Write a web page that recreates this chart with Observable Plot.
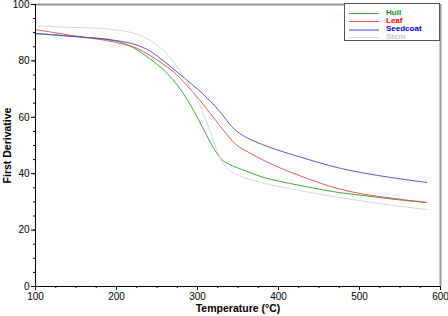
<!DOCTYPE html>
<html><head><meta charset="utf-8">
<script src="https://cdn.jsdelivr.net/npm/d3@7"></script>
<script src="https://cdn.jsdelivr.net/npm/@observablehq/plot@0.6"></script>
<style>
body{margin:0;background:#fff;font-family:"Liberation Sans",Arial,sans-serif}
#wrap{position:relative;width:448px;height:316px}
#legend{position:absolute;left:344px;top:3px;width:96px;height:38px;border:1px solid #555;background:#fff;box-sizing:border-box;font-weight:bold;font-size:8px}
.row{position:absolute;left:0;height:8px;width:94px}
.sw{position:absolute;left:4px;top:4px;width:30px;height:1px}
.lb{position:absolute;left:41px;top:0;line-height:8px;white-space:nowrap}
</style></head>
<body><div id="wrap"></div>
<script>
const seriesNames = ["Hull", "Leaf", "Seedcoat", "Stem"];
const lineColors = ["#2e9a2e", "#e54545", "#4545cc", "#d2d2d2"];
const swatchColors = ["#44b044", "#f06060", "#a0a0ee", "#d8d8d8"];
const textColors = ["#1a8a1a", "#ff0000", "#0000cc", "#c8c8c8"];

const hullTemp  = [100, 150, 200, 220, 241, 260, 280, 295, 307, 319, 330, 340, 355, 380, 400, 427, 475, 504, 540, 583];
const hullValue = [89.7, 88.6, 87, 84.8, 80.8, 76.3, 69.5, 62.5, 56, 49.5, 45, 43.2, 41.5, 38.8, 37.4, 35.8, 33.3, 32.3, 31, 29.8];

const leafTemp  = [100, 150, 200, 225, 241, 255, 270, 287, 303, 319, 336, 345, 365, 400, 427, 475, 504, 540, 583];
const leafValue = [91.1, 88.8, 86.5, 84.5, 82, 79.4, 76.2, 71.3, 66, 60.2, 54, 51, 47.3, 42.3, 39.2, 34.6, 32.8, 31.3, 29.8];

const seedTemp  = [100, 150, 200, 225, 241, 255, 270, 285, 300, 315, 330, 342, 352, 365, 385, 427, 475, 504, 540, 583];
const seedValue = [89.7, 88.6, 87.2, 85.6, 83.6, 80.7, 77.2, 73.6, 70, 66, 61.2, 56.8, 54.3, 52.2, 49.8, 45.9, 42, 40.3, 38.6, 36.9];

const stemTemp  = [100, 150, 182, 204, 225, 241, 255, 268, 282, 295, 305, 315, 323, 330, 338, 350, 377, 427, 475, 504, 540, 583];
const stemValue = [92.5, 91.8, 91.5, 90.8, 89.5, 87.3, 84.5, 80.5, 74.8, 68.6, 62.8, 55.5, 49, 44.3, 41.6, 39.5, 37, 34, 31.6, 30.3, 28.8, 27.3];

const xTicks = [100, 200, 300, 400, 500, 600];
const yTicks = [0, 20, 40, 60, 80, 100];
const xMinor = d3.range(100, 601, 25);
const yMinor = d3.range(0, 101, 5);

const temps = [hullTemp, leafTemp, seedTemp, stemTemp];
const vals = [hullValue, leafValue, seedValue, stemValue];
const data = [];
seriesNames.forEach((s, i) => temps[i].forEach((t, j) => data.push({series: s, t, v: vals[i][j]})));

const chart = Plot.plot({
  width: 448, height: 316,
  marginLeft: 35, marginRight: 8, marginTop: 4, marginBottom: 30,
  style: {fontFamily: "Liberation Sans, Arial, sans-serif", fontSize: "10px", color: "#000", background: "#fff", overflow: "visible"},
  x: {domain: [100, 600]},
  y: {domain: [0, 100]},
  color: {domain: seriesNames, range: lineColors},
  marks: [
    Plot.ruleY([100], {stroke: "#999", strokeWidth: 2}),
    Plot.ruleX([600], {stroke: "#999", strokeWidth: 2}),
    Plot.line(data, {x: "t", y: "v", z: "series", stroke: "series", strokeWidth: 0.9, curve: "monotone-x"}),
    Plot.axisX(xMinor, {tickSize: 2, text: null, label: null, stroke: "#000"}),
    Plot.axisY(yMinor, {tickSize: 2, text: null, label: null, stroke: "#000"}),
    Plot.axisX(xTicks, {tickSize: 4, tickPadding: 2, label: "Temperature (°C)", labelAnchor: "center", labelArrow: "none", labelOffset: 25, fontSize: 10}),
    Plot.axisY(yTicks, {tickSize: 4, tickPadding: 2, label: "First Derivative", labelAnchor: "center", labelArrow: "none", labelOffset: 32, fontSize: 10}),
    Plot.ruleY([0], {stroke: "#000"}),
    Plot.ruleX([100], {stroke: "#000"})
  ]
});
d3.select(chart).selectAll("g[aria-label='x-axis label'] text, g[aria-label='y-axis label'] text")
  .style("font-weight", "bold").style("font-size", "10.5px");
document.getElementById("wrap").appendChild(chart);

const lg = document.createElement("div");
lg.id = "legend";
seriesNames.forEach((s, i) => {
  const r = document.createElement("div");
  r.className = "row";
  r.style.top = (5 + i * 8) + "px";
  const sw = document.createElement("div");
  sw.className = "sw";
  sw.style.background = swatchColors[i];
  if (s === "Seedcoat") { sw.style.height = "2px"; sw.style.top = "3.5px"; }
  const lb = document.createElement("span");
  lb.className = "lb";
  lb.style.color = textColors[i];
  lb.textContent = s;
  r.appendChild(sw); r.appendChild(lb);
  lg.appendChild(r);
});
document.getElementById("wrap").appendChild(lg);
</script></body></html>
